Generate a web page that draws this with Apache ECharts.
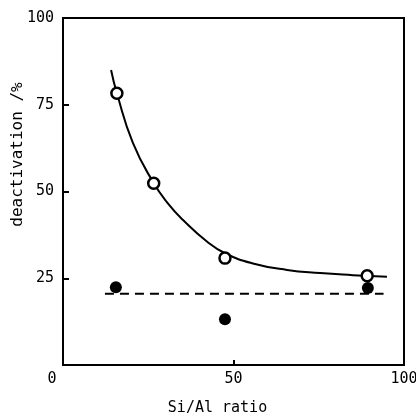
<!DOCTYPE html>
<html>
<head>
<meta charset="utf-8">
<script src="https://cdn.jsdelivr.net/npm/echarts@6/dist/echarts.min.js"></script>
<style>
  html, body { margin: 0; padding: 0; background: #fff; }
  #chart { width: 416px; height: 415px; }
</style>
</head>
<body>
<div id="chart"></div>
<script>
// open and filled circles
const openX = [15.8, 26.6, 47.5, 89.2];
const openY = [78.3, 52.4, 30.8, 25.7];
const filledX = [15.5, 47.5, 89.4];
const filledY = [22.4, 13.2, 22.2];
// hand-drawn fitted curve, traced points
const curveX = [14.1, 15.8, 20.5, 26.5, 31, 35.2, 42.2, 47.5, 56, 65.7, 75.4, 85, 95];
const curveY = [85.0, 78.3, 64.0, 52.6, 46.3, 41.8, 35.6, 32.2, 29.2, 27.4, 26.5, 25.9, 25.4];
// dashed level line
const dashX = [12.3, 94.0];
const dashY = [20.5, 20.5];
const xTicks = [0, 50, 100];
const yTicks = [25, 50, 75, 100];

const font = "DejaVu Sans Mono";
const pairs = (xs, ys) => xs.map((x, i) => [x, ys[i]]);

const chart = echarts.init(document.getElementById("chart"));
chart.setOption({
  backgroundColor: "#fff",
  animation: false,
  grid: {
    left: 63, right: 12, top: 18, bottom: 50,
    containLabel: false, outerBoundsMode: "none",
    show: true, borderColor: "#000", borderWidth: 2
  },
  xAxis: {
    type: "value", min: 0, max: 100, interval: 50,
    name: "Si/Al ratio", nameLocation: "middle", nameGap: 36, nameMoveOverlap: false,
    nameTextStyle: { fontFamily: font, fontSize: 15, color: "#000", padding: [0, 32, 0, 0] },
    axisLine: { lineStyle: { color: "#000", width: 2 } },
    axisTick: { inside: true, length: 5, lineStyle: { color: "#000", width: 2 } },
    axisLabel: {
      color: "#000", fontFamily: font, fontSize: 15, margin: 7,
      formatter: v => xTicks.includes(v) ? (v === 0 ? "{z|0}" : String(v)) : "",
      rich: { z: { fontFamily: font, fontSize: 15, color: "#000", padding: [0, 22, 0, 0] } }
    },
    splitLine: { show: false }
  },
  yAxis: {
    type: "value", min: 0, max: 100, interval: 25,
    name: "deactivation /%", nameLocation: "middle", nameGap: 37, nameMoveOverlap: false,
    nameTextStyle: { fontFamily: font, fontSize: 16, color: "#000", padding: [0, 0, 0, 74] },
    axisLine: { lineStyle: { color: "#000", width: 2 } },
    axisTick: { inside: true, length: 6, lineStyle: { color: "#000", width: 2 } },
    axisLabel: {
      color: "#000", fontFamily: font, fontSize: 15, margin: 9,
      formatter: v => yTicks.includes(v) ? String(v) : ""
    },
    splitLine: { show: false }
  },
  series: [
    {
      type: "line", data: pairs(curveX, curveY), smooth: 0.5, symbol: "none",
      lineStyle: { color: "#000", width: 2 }, z: 2
    },
    {
      type: "line", data: pairs(dashX, dashY), symbol: "none",
      lineStyle: { color: "#000", width: 2, type: [9, 6] }, z: 2
    },
    {
      type: "scatter", data: pairs(filledX, filledY), symbolSize: 12,
      itemStyle: { color: "#000", opacity: 1 }, z: 3
    },
    {
      type: "scatter", data: pairs(openX, openY), symbolSize: 11,
      itemStyle: { color: "#fff", borderColor: "#000", borderWidth: 2.5, opacity: 1 }, z: 4
    }
  ]
});
</script>
</body>
</html>
